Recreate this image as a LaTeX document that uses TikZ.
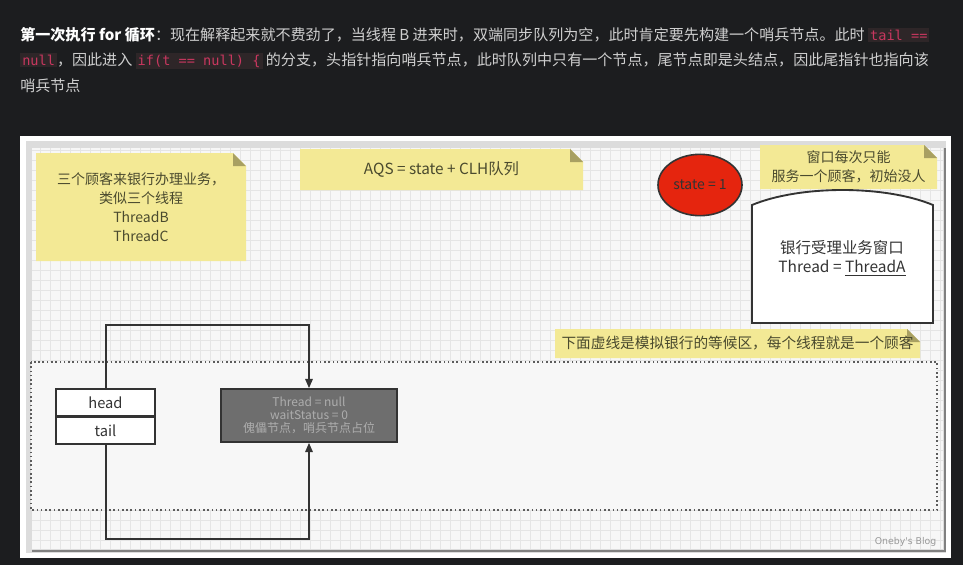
\documentclass[tikz,border=0pt]{standalone}
\usepackage{fontspec}
\setmainfont{Noto Sans CJK SC}
\newfontfamily\codefont{DejaVu Sans Mono}
\newfontfamily\markfont{DejaVu Sans}
\usetikzlibrary{calc, positioning, shapes.geometric, arrows.meta}

% Inline code in the header text
\newcommand\code[1]{{\setlength{\fboxsep}{1.5pt}\colorbox{codeBg}{\codefont\fontsize{10.2}{12}\selectfont\color{codeRed}#1}}}

\begin{document}
\begin{tikzpicture}[x=0.75pt, y=-0.75pt,
    headerText/.style={anchor=base west, inner sep=0pt, text=textColour, font=\fontsize{11.3}{14}\selectfont},
    noteText/.style={align=center, inner sep=0pt, text=noteInk, font=\fontsize{10.5}{14.25}\selectfont},
    cellBox/.style={draw=lineColour, line width=1.1pt, fill=white, minimum width=74.25pt, minimum height=20pt, inner sep=0pt, text=lineColour, font=\fontsize{11}{12}\selectfont},
    sentinelBox/.style={draw=lineColour, line width=1.1pt, fill=sentinelFill, minimum width=132pt, minimum height=39.75pt, align=center, text=sentinelInk, font=\fontsize{9}{10}\selectfont},
    stateOval/.style={ellipse, draw=lineColour, line width=1.2pt, fill=stateRed, minimum width=63pt, minimum height=46pt, inner sep=0pt, text=lineColour, font=\fontsize{10.5}{12}\selectfont},
    link/.style={draw=lineColour, line width=1.5pt, -{Triangle[length=7pt,width=5.5pt]}}
]
    % Define colors
    \definecolor{pageColour}{HTML}{1C1D1F}
    \definecolor{textColour}{HTML}{CFCFCF}
    \definecolor{codeRed}{HTML}{C8375F}
    \definecolor{codeBg}{HTML}{2E2628}
    \definecolor{paperColour}{HTML}{F7F7F7}
    \definecolor{bandColour}{HTML}{DCDCDC}
    \definecolor{gridColour}{HTML}{E5E5E5}
    \definecolor{noteColour}{HTML}{F3E995}
    \definecolor{foldColour}{HTML}{A8A062}
    \definecolor{noteInk}{HTML}{4A4A2E}
    \definecolor{lineColour}{HTML}{333333}
    \definecolor{stateRed}{HTML}{E5250E}
    \definecolor{sentinelFill}{HTML}{6E6E6E}
    \definecolor{sentinelInk}{HTML}{ADADAD}

    % Define canvas size and fold of the notes
    \def\picWidth{963}
    \def\picHeight{565}
    \def\fold{13}

    % Sticky note: top left, bottom right, name of its centre
    \def\drawNote(#1,#2)(#3,#4)#5{
        \fill[noteColour] (#1,#2) -- ({#3-\fold},#2) -- (#3,{#2+\fold}) -- (#3,#4) -- (#1,#4) -- cycle;
        \fill[foldColour] ({#3-\fold},#2) -- ({#3-\fold},{#2+\fold}) -- (#3,{#2+\fold}) -- cycle;
        \coordinate (#5) at ({(#1+#3)/2},{(#2+#4)/2});
    }

    % Draw page
    \useasboundingbox (0,0) rectangle (\picWidth,\picHeight);
    \fill[pageColour] (0,0) rectangle (\picWidth,\picHeight);

    % Header text
    \node[headerText] (line1) at (20,40) {\textbf{\color{white}第一次执行 for 循环}：现在解释起来就不费劲了，当线程 B 进来时，双端同步队列为空，此时肯定要先构建一个哨兵节点。此时 \code{tail ==}};
    \node[headerText] (line2) at (20,65) {\code{null}，因此进入 \code{if(t == null) \{} 的分支，头指针指向哨兵节点，此时队列中只有一个节点，尾节点即是头结点，因此尾指针也指向该};
    \node[headerText] (line3) at (20,91) {哨兵节点};

    % Draw panel
    \fill[white] (20,136) rectangle (951,558);
    \fill[bandColour] (26,141) rectangle (946,553);
    \fill[paperColour] (32,148) rectangle (943,549);
    \foreach \gx in {40,50,...,940}
        \draw[gridColour, line width=0.4pt] (\gx,148) -- (\gx,549);
    \foreach \gy in {150,160,...,540}
        \draw[gridColour, line width=0.4pt] (32,\gy) -- (943,\gy);
    \draw[gray, line width=1pt] (945,148) -- (945,551) -- (32,551);

    % Waiting area
    \draw[lineColour!80, line width=1.2pt, dotted, fill=paperColour] (31,362) rectangle (937,510);

    % Notes
    \drawNote(36,153)(246,261){noteA}
    \node[noteText] (customers) at (noteA) {三个顾客来银行办理业务，\\类似三个线程\\ThreadB\\ThreadC};
    \drawNote(300,149)(583,190){noteB}
    \node[noteText, font=\fontsize{11.5}{14}\selectfont] (aqs) at (noteB) {AQS = state + CLH队列};
    \drawNote(760,145)(937,189){noteC}
    \node[noteText] (rule) at (noteC) {窗口每次只能\\服务一个顾客，初始没人};
    \drawNote(555,329)(920,358){noteD}
    \node[noteText, font=\fontsize{11}{14}\selectfont] (area) at (noteD) {下面虚线是模拟银行的等候区，每个线程就是一个顾客};

    % State
    \node[stateOval] (state) at (700,185) {state = 1};

    % Bank window
    \filldraw[fill=white, draw=lineColour, line width=1.4pt] (752,323) -- (752,205) .. controls (800,185) and (885,185) .. (933,205) -- (933,323) -- cycle;
    \node[align=center, text=lineColour, font=\fontsize{11.6}{14.5}\selectfont] (window) at (842,258) {银行受理业务窗口\\Thread = \underline{ThreadA}};

    % Queue nodes
    \node[cellBox] (head) at (105.5,402.5) {head};
    \node[cellBox, below=0pt of head] (tail) {tail};
    \node[sentinelBox] (sentinel) at (309,415.5) {Thread = null\\waitStatus = 0\\傀儡节点，哨兵节点占位};

    % Pointers
    \draw[link] (head.north) -- ++(0,-63) -| (sentinel.north);
    \draw[link] (tail.south) -- ++(0,94) -| (sentinel.south);

    % Watermark
    \node[anchor=east, text=gray!80, font=\markfont\fontsize{7}{9}\selectfont] (blog) at (941,542) {Oneby\symbol{39}s Blog};

\end{tikzpicture}
\end{document}
